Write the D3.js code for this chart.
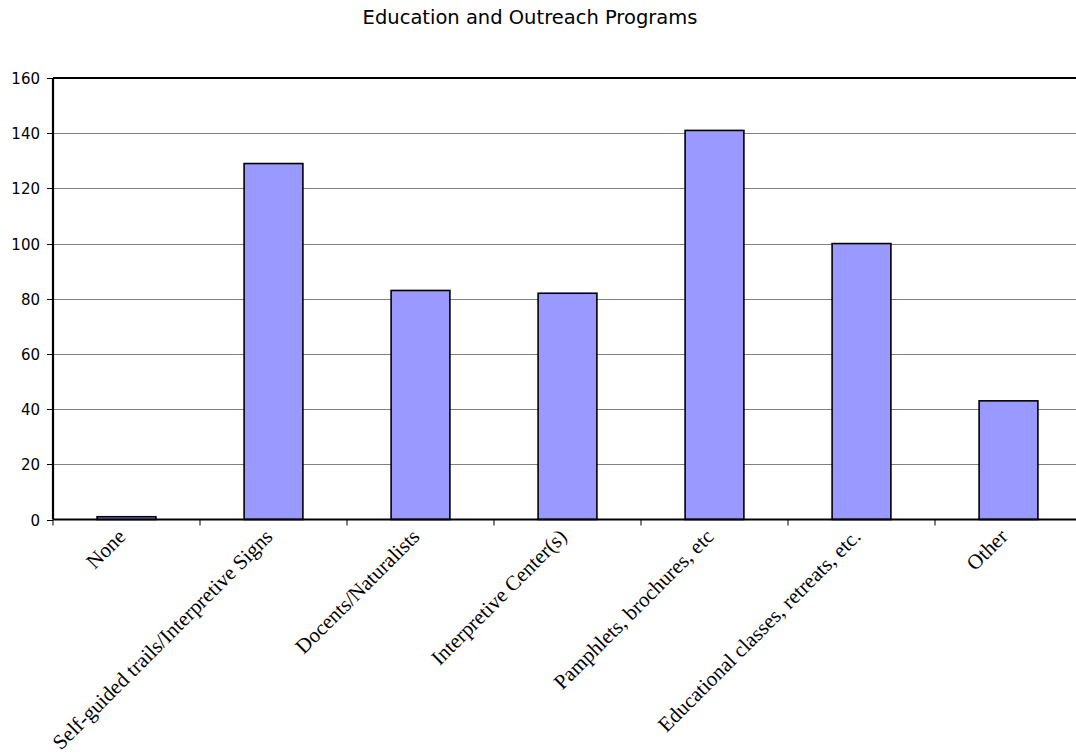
<!DOCTYPE html>
<html>
<head>
<meta charset="utf-8">
<script src="https://cdn.jsdelivr.net/npm/d3@7"></script>
<style>
  html, body { margin: 0; padding: 0; background: #fff; overflow: hidden; }
  .ytick text { font-family: Verdana, "DejaVu Sans", sans-serif; font-size: 15px; fill: #000; }
  .xlabel { font-family: "Times New Roman", "Liberation Serif", serif; font-size: 21px; fill: #000; }
</style>
</head>
<body>
<div id="chart"></div>
<script>
// --- Data ---
const categories = [
  "None",
  "Self-guided trails/Interpretive Signs",
  "Docents/Naturalists",
  "Interpretive Center(s)",
  "Pamphlets, brochures, etc",
  "Educational classes, retreats, etc.",
  "Other"
];
const values = [1, 129, 83, 82, 141, 100, 43];
const yTicks = [0, 20, 40, 60, 80, 100, 120, 140, 160];
const title = "Education and Outreach Programs";

// --- Layout ---
const W = 1076, H = 755;
const margin = { top: 78, left: 53 };
const width = 1029;            // plot runs slightly past the right edge
const height = 441.5;

const svg = d3.select("#chart").append("svg")
  .attr("width", W).attr("height", H);

const g = svg.append("g")
  .attr("transform", `translate(${margin.left},${margin.top})`);

// Scales
const x = d3.scaleBand()
  .domain(categories)
  .range([0, width])
  .paddingInner(0.6)
  .paddingOuter(0.3);

const y = d3.scaleLinear()
  .domain([0, 160])
  .range([height, 0]);

// Grid lines
g.append("g")
  .selectAll("line")
  .data(yTicks.filter(d => d > 0 && d < 160))
  .join("line")
  .attr("x1", 0).attr("x2", width)
  .attr("y1", d => Math.round(y(d)) + 0.5).attr("y2", d => Math.round(y(d)) + 0.5)
  .attr("stroke", "#808080")
  .attr("stroke-width", 1.2);

// Y axis ticks + labels
const yt = g.append("g").attr("class", "ytick")
  .selectAll("g")
  .data(yTicks)
  .join("g")
  .attr("transform", d => `translate(0,${Math.round(y(d)) + 0.5})`);
yt.append("line").attr("x1", -6).attr("x2", 0).attr("stroke", "#000");
yt.append("text")
  .attr("x", -13)
  .attr("dy", "0.36em")
  .attr("text-anchor", "end")
  .text(d => d);

// Bars
g.selectAll(".bar")
  .data(values)
  .join("rect")
  .attr("class", "bar")
  .attr("x", (d, i) => x(categories[i]))
  .attr("width", x.bandwidth())
  .attr("y", d => y(d))
  .attr("height", d => height - y(d))
  .attr("fill", "#9999FF")
  .attr("stroke", "#000")
  .attr("stroke-width", 1.6);

// X tick marks at category boundaries
g.append("g")
  .selectAll("line")
  .data(d3.range(categories.length + 1))
  .join("line")
  .attr("x1", i => i * x.step()).attr("x2", i => i * x.step())
  .attr("y1", height).attr("y2", height + 6)
  .attr("stroke", "#000");

// Frame (left, top, bottom)
g.append("line").attr("x1", 0).attr("x2", 0).attr("y1", 0).attr("y2", height)
  .attr("stroke", "#000").attr("stroke-width", 2.2);
g.append("line").attr("x1", 0).attr("x2", width).attr("y1", 0).attr("y2", 0)
  .attr("stroke", "#000").attr("stroke-width", 2.2);
g.append("line").attr("x1", 0).attr("x2", width).attr("y1", height).attr("y2", height)
  .attr("stroke", "#000").attr("stroke-width", 2.2);

// Category labels (rotated)
g.selectAll(".xlabel")
  .data(categories)
  .join("text")
  .attr("class", "xlabel")
  .attr("text-anchor", "end")
  .attr("transform", d => `translate(${x(d) + x.bandwidth() / 2 - 10},${height + 8}) rotate(-45)`)
  .attr("dy", "0.7em")
  .text(d => d);

// Title
svg.append("text")
  .attr("x", 530)
  .attr("y", 24)
  .attr("text-anchor", "middle")
  .style("font-family", "Verdana, 'DejaVu Sans', sans-serif")
  .style("font-size", "19.5px")
  .text(title);
</script>
</body>
</html>
